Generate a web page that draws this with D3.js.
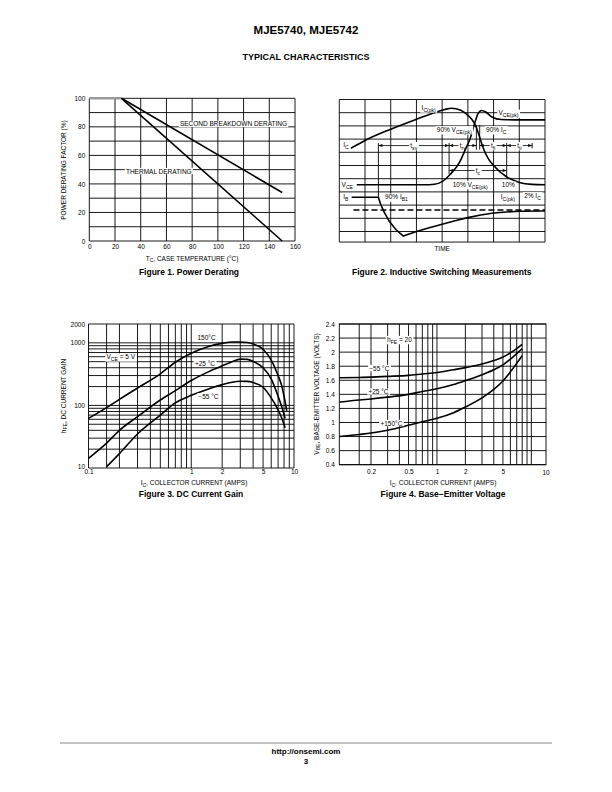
<!DOCTYPE html>
<html><head><meta charset="utf-8">
<script src="https://cdn.jsdelivr.net/npm/d3@7"></script>
<style>body{margin:0;background:#fff}</style>
</head><body>
<script>
// ================= DATA =================
// Figure 1 – Power Derating
const fig1XTicks = [0,20,40,60,80,100,120,140,160];
const fig1YTicks = [0,20,40,60,80,100];
const fig1XGrid = [0,20,40,60,80,100,120,140,160];
const fig1YGrid = [0,10,20,30,40,50,60,70,80,90,100];
const fig1Flat = [[0,100],[25,100]];
const fig1Thermal = [[25,100],[150,0]];
const fig1SecondBreakdown = [[25,100],[150,34]];

// Figure 2 – Inductive switching (schematic, grid units: 8 columns x 10.8 rows)
const fig2Cols = [0,1,2,3,4,5,6,7,8];
const fig2Rows = [0,1,2,3,4,5,6,7,8,9,10,10.8];
const fig2IC = [[0.45,3.69],[1.0,3.1],[2.0,2.25],[3.0,1.5],[3.7,1.0],[4.1,0.76],[4.37,0.66],[4.7,0.8],[4.96,1.12],[5.15,1.5],[5.3,1.97],[5.45,2.8],[5.6,3.7],[5.8,4.5],[6.0,5.0],[6.5,5.85],[7.0,6.28],[7.5,6.43],[8,6.46]];
const fig2VCE = [[0.68,6.46],[3.3,6.46],[3.7,6.42],[4.0,6.22],[4.3,5.7],[4.68,4.75],[4.9,3.8],[5.09,2.95],[5.28,1.7],[5.4,1.05],[5.53,0.83],[5.7,0.95],[5.95,1.35],[6.3,1.52],[6.8,1.54],[8,1.54]];
const fig2IB = [[0.48,7.4],[1.52,7.4],[1.6,7.9],[1.75,8.55],[1.95,9.25],[2.2,9.85],[2.49,10.35],[3.0,10.0],[3.5,9.72],[4.0,9.45],[4.5,9.18],[5.0,8.95],[5.5,8.75],[6.0,8.6],[6.5,8.52],[7.0,8.47],[8,8.45]];
const fig2Dashed = [[0.55,8.38],[8,8.38]];
const fig2Markers = [[1.52,3.3,7.4],[4.27,3.3,5.65],[5.33,1.95,3.8],[5.46,1.95,3.8],[6.51,3.3,5.9],[7.5,3.3,3.7]];
const fig2Intervals = [
  {from:1.52,to:4.27,row:3.49,label:[["t"],["sv",1]]},
  {from:4.27,to:5.33,row:3.49,label:[["t"],["rv",1]]},
  {from:5.46,to:6.51,row:3.49,label:[["t"],["fi",1]]},
  {from:6.51,to:7.5,row:3.49,label:[["t"],["ti",1]]},
  {from:4.27,to:6.51,row:5.38,label:[["t"],["c",1]]}
];
const fig2Labels = [
  {u:3.2,v:0.8,anchor:"start",segs:[["I"],["C(pk)",1]]},
  {u:6.19,v:1.2,anchor:"start",segs:[["V"],["CE(pk)",1]]},
  {u:5.15,v:2.45,anchor:"end",segs:[["90% V"],["CE(pk)",1]]},
  {u:5.71,v:2.45,anchor:"start",segs:[["90% I"],["C",1]]},
  {u:0.15,v:3.6,anchor:"start",segs:[["I"],["C",1]]},
  {u:0.09,v:6.6,anchor:"start",segs:[["V"],["CE",1]]},
  {u:4.41,v:6.6,anchor:"start",segs:[["10% V"],["CE(pk)",1]]},
  {u:6.32,v:6.65,anchor:"start",segs:[["10%"]]},
  {u:6.28,v:7.55,anchor:"start",segs:[["I"],["C(pk)",1]]},
  {u:7.19,v:7.45,anchor:"start",segs:[["2% I"],["C",1]]},
  {u:0.15,v:7.55,anchor:"start",segs:[["I"],["B",1]]},
  {u:1.78,v:7.55,anchor:"start",segs:[["90% I"],["B1",1]]}
];

// Figure 3 – DC current gain
const fig3XTicks = [0.1,1,2,5,10];
const fig3YTicks = [10,100,1000,2000];
const fig3XGrid = [0.1,0.15,0.2,0.3,0.4,0.5,0.6,0.7,0.8,0.9,1,2,3,4,5,6,7,8,9,10];
const fig3YGrid = [10,20,30,40,50,60,70,80,90,100,200,300,400,500,600,700,800,900,1000,2000];
const hfe150 = [[0.1,62],[0.15,92],[0.2,125],[0.3,190],[0.5,320],[0.7,490],[1,680],[1.5,880],[2,980],[2.5,1030],[3,1030],[3.5,1010],[4,960],[5,790],[6,530],[7,300],[7.6,205],[8,140],[8.5,82]];
const hfe25 = [[0.1,14.3],[0.15,25],[0.2,40],[0.3,66],[0.5,122],[0.7,172],[1,250],[1.5,350],[2,430],[2.5,500],[3,550],[3.5,545],[4,505],[5,400],[6,265],[7,140],[7.6,95],[8.2,62]];
const hfe55 = [[0.15,10.5],[0.2,17],[0.3,35],[0.5,70],[0.7,110],[1,145],[1.5,185],[2,215],[2.5,235],[3,243],[3.5,242],[4,232],[5,195],[6,132],[7,85],[7.6,63],[8.2,44]];

// Figure 4 – Base-emitter voltage
const fig4XTicks = [0.2,0.5,1,2,5];
const fig4XEndLabel = "10";
const fig4YTicks = [0.4,0.6,0.8,1,1.2,1.4,1.6,1.8,2,2.2,2.4];
const fig4XGrid = [0.15,0.2,0.3,0.4,0.5,0.6,0.7,0.8,0.9,1,2,3,4,5,6,7,8,9,10];
const vbe55 = [[0.093,1.635],[0.15,1.64],[0.2,1.645],[0.3,1.655],[0.5,1.67],[0.7,1.69],[1,1.71],[1.5,1.75],[2,1.78],[3,1.83],[4,1.88],[5,1.93],[6,1.99],[7,2.05],[8,2.11]];
const vbe25 = [[0.093,1.29],[0.15,1.32],[0.2,1.335],[0.3,1.36],[0.5,1.40],[0.7,1.44],[1,1.48],[1.5,1.54],[2,1.595],[3,1.68],[4,1.75],[5,1.82],[6,1.9],[7,1.98],[8,2.05]];
const vbe150 = [[0.093,0.80],[0.15,0.83],[0.2,0.85],[0.3,0.89],[0.5,0.96],[0.7,1.01],[1,1.06],[1.5,1.14],[2,1.22],[3,1.35],[4,1.47],[5,1.59],[6,1.72],[7,1.84],[8,1.95]];

// ================= DRAWING =================
const FONT = "'Liberation Sans', Arial, Helvetica, sans-serif";
const svg = d3.select("body").append("svg").attr("width",612).attr("height",792)
  .style("font-family",FONT);

function rich(g, x, y, segs, opt={}) {
  const size = opt.size || 6.5;
  const t = g.append("text").attr("x",x).attr("y",y)
    .attr("font-size",size).attr("text-anchor",opt.anchor||"start")
    .attr("font-weight",opt.weight||"normal").attr("fill","#000");
  let shifted = false;
  segs.forEach(s => {
    const str = s[0], sub = !!s[1];
    const ts = t.append("tspan").text(str);
    if (sub) {
      ts.attr("font-size", size*0.78);
      if (!shifted) { ts.attr("dy", size*0.3); shifted = true; }
    } else if (shifted) { ts.attr("dy", -size*0.3); shifted = false; }
  });
  if (opt.bg) {
    const b = t.node().getBBox();
    g.insert("rect", () => t.node()).attr("x",b.x-1.2).attr("y",b.y+0.3)
      .attr("width",b.width+2.4).attr("height",b.height-0.6).attr("fill","#fff");
  }
  return t;
}
function rotLabel(g, x, y, segs, size) {
  const gg = g.append("g").attr("transform",`translate(${x},${y}) rotate(-90)`);
  rich(gg, 0, 0, segs, {size:size||6.5, anchor:"middle"});
}
function styleAxis(sel, size) {
  sel.select(".domain").remove();
  sel.selectAll("text").attr("font-size",size||6.5).attr("fill","#000").attr("font-family",FONT);
}

// ---- Header / footer ----
rich(svg, 306, 34, [["MJE5740, MJE5742"]], {size:11.5, anchor:"middle", weight:"bold"});
rich(svg, 306, 60, [["TYPICAL CHARACTERISTICS"]], {size:9, anchor:"middle", weight:"bold"});
svg.append("line").attr("x1",60).attr("x2",552).attr("y1",743).attr("y2",743)
  .attr("stroke","#b0b0b0").attr("stroke-width",1.4);
rich(svg, 306, 754, [["http://onsemi.com"]], {size:8, anchor:"middle", weight:"bold"});
rich(svg, 306, 764, [["3"]], {size:8, anchor:"middle", weight:"bold"});

// ---- Figure 1 ----
{
  const g = svg.append("g");
  const x = d3.scaleLinear().domain([0,160]).range([89.3,295]);
  const y = d3.scaleLinear().domain([0,100]).range([241,98.3]);
  g.selectAll(".vg").data(fig1XGrid).join("line")
    .attr("x1",d=>x(d)).attr("x2",d=>x(d)).attr("y1",y(0)).attr("y2",y(100))
    .attr("stroke","#000").attr("stroke-width",0.9);
  g.selectAll(".hg").data(fig1YGrid).join("line")
    .attr("x1",x(0)).attr("x2",x(160)).attr("y1",d=>y(d)).attr("y2",d=>y(d))
    .attr("stroke","#000").attr("stroke-width",0.9);
  const line = d3.line().x(d=>x(d[0])).y(d=>y(d[1]));
  g.append("path").attr("d",line(fig1Flat)).attr("fill","none").attr("stroke","#999").attr("stroke-width",2.4);
  g.append("path").attr("d",line(fig1Thermal)).attr("fill","none").attr("stroke","#000").attr("stroke-width",1.6);
  g.append("path").attr("d",line(fig1SecondBreakdown)).attr("fill","none").attr("stroke","#000").attr("stroke-width",1.6);
  rich(g, x(70.5), y(80.3), [["SECOND BREAKDOWN DERATING"]], {bg:true});
  rich(g, x(28.5), y(47.3), [["THERMAL DERATING"]], {bg:true});
  g.append("g").attr("transform",`translate(0,${y(0)})`)
    .call(d3.axisBottom(x).tickValues(fig1XTicks).tickSize(0).tickPadding(3.5).tickFormat(d3.format("d")))
    .call(s=>styleAxis(s));
  g.append("g").attr("transform",`translate(${x(0)},0)`)
    .call(d3.axisLeft(y).tickValues(fig1YTicks).tickSize(0).tickPadding(4).tickFormat(d3.format("d")))
    .call(s=>styleAxis(s));
  rich(g, 192, 260.5, [["T"],["C",1],[", CASE TEMPERATURE (°C)"]], {anchor:"middle"});
  rotLabel(g, 65.5, 170, [["POWER DERATING FACTOR (%)"]]);
  rich(g, 189, 274.5, [["Figure 1. Power Derating"]], {size:8.5, anchor:"middle", weight:"bold"});
}

// ---- Figure 2 ----
{
  const g = svg.append("g");
  const x = d3.scaleLinear().domain([0,8]).range([339.3,545]);
  const y = d3.scaleLinear().domain([0,10]).range([99.5,231.5]);
  g.selectAll(".vg").data(fig2Cols).join("line")
    .attr("x1",d=>x(d)).attr("x2",d=>x(d)).attr("y1",y(0)).attr("y2",y(10.8))
    .attr("stroke","#000").attr("stroke-width",0.9);
  g.selectAll(".hg").data(fig2Rows).join("line")
    .attr("x1",x(0)).attr("x2",x(8)).attr("y1",d=>y(d)).attr("y2",d=>y(d))
    .attr("stroke","#000").attr("stroke-width",0.9);
  const smooth = d3.line().x(d=>x(d[0])).y(d=>y(d[1])).curve(d3.curveMonotoneX);
  const lin = d3.line().x(d=>x(d[0])).y(d=>y(d[1]));
  g.append("path").attr("d",lin(fig2Dashed)).attr("fill","none").attr("stroke","#000")
    .attr("stroke-width",1.5).attr("stroke-dasharray","6,3");
  g.selectAll(".mk").data(fig2Markers).join("line")
    .attr("x1",d=>x(d[0])).attr("x2",d=>x(d[0])).attr("y1",d=>y(d[1])).attr("y2",d=>y(d[2]))
    .attr("stroke","#000").attr("stroke-width",0.9);
  fig2Intervals.forEach(iv => {
    const yy = y(iv.row), xa = x(iv.from), xb = x(iv.to);
    g.append("line").attr("x1",xa).attr("x2",xb).attr("y1",yy).attr("y2",yy)
      .attr("stroke","#000").attr("stroke-width",0.8);
    g.append("path").attr("d",`M${xa},${yy}l4,-1.5v3z`).attr("fill","#000");
    g.append("path").attr("d",`M${xb},${yy}l-4,-1.5v3z`).attr("fill","#000");
    rich(g, (xa+xb)/2, yy+2.2, iv.label, {anchor:"middle", bg:true});
  });
  g.append("path").attr("d",smooth(fig2IC)).attr("fill","none").attr("stroke","#000").attr("stroke-width",1.6);
  g.append("path").attr("d",smooth(fig2VCE)).attr("fill","none").attr("stroke","#000").attr("stroke-width",1.6);
  g.append("path").attr("d",lin(fig2IB)).attr("fill","none").attr("stroke","#000").attr("stroke-width",1.6).attr("stroke-linejoin","round");
  fig2Labels.forEach(l => rich(g, x(l.u), y(l.v), l.segs, {anchor:l.anchor, bg:true}));
  rich(g, x(4), 250.5, [["TIME"]], {anchor:"middle"});
  rich(g, 441.7, 274.5, [["Figure 2. Inductive Switching Measurements"]], {size:8.5, anchor:"middle", weight:"bold"});
}

// ---- Figure 3 ----
{
  const g = svg.append("g");
  const x = d3.scaleLog().domain([0.1,10]).range([88.5,294]);
  const y = d3.scaleLog().domain([10,2000]).range([468,324]);
  g.selectAll(".vg").data(fig3XGrid).join("line")
    .attr("x1",d=>x(d)).attr("x2",d=>x(d)).attr("y1",y(10)).attr("y2",y(2000))
    .attr("stroke","#000").attr("stroke-width",0.9);
  g.selectAll(".hg").data(fig3YGrid).join("line")
    .attr("x1",x(0.1)).attr("x2",x(10)).attr("y1",d=>y(d)).attr("y2",d=>y(d))
    .attr("stroke","#000").attr("stroke-width",0.9);
  const line = d3.line().x(d=>x(d[0])).y(d=>y(d[1])).curve(d3.curveMonotoneX);
  [hfe150,hfe25,hfe55].forEach(s => g.append("path").attr("d",line(s)).attr("fill","none")
    .attr("stroke","#000").attr("stroke-width",1.6));
  rich(g, x(0.206), y(552), [["V"],["CE",1],[" = 5 V"]], {anchor:"middle", bg:true});
  rich(g, x(1.41), y(1090), [["150°C"]], {anchor:"middle", bg:true});
  rich(g, x(1.36), y(432), [["+25 °C"]], {anchor:"middle", bg:true});
  rich(g, x(1.47), y(127), [["−55 °C"]], {anchor:"middle", bg:true});
  g.append("g").attr("transform",`translate(0,${y(10)})`)
    .call(d3.axisBottom(x).tickValues(fig3XTicks).tickSize(0).tickPadding(1.8).tickFormat(d=>String(d)))
    .call(s=>styleAxis(s));
  g.append("g").attr("transform",`translate(${x(0.1)},0)`)
    .call(d3.axisLeft(y).tickValues(fig3YTicks).tickSize(0).tickPadding(3.5).tickFormat(d=>String(d)))
    .call(s=>styleAxis(s))
    .call(s=>s.selectAll(".tick").filter(d=>d===10).select("text").attr("dy","0.0em"));
  rich(g, 194, 485, [["I"],["C",1],[", COLLECTOR CURRENT (AMPS)"]], {anchor:"middle"});
  rotLabel(g, 65.5, 396, [["h"],["FE",1],[", DC CURRENT GAIN"]]);
  rich(g, 191, 497, [["Figure 3. DC Current Gain"]], {size:8.5, anchor:"middle", weight:"bold"});
}

// ---- Figure 4 ----
{
  const g = svg.append("g");
  const x = d3.scaleLog().domain([0.0923,14.3]).range([339.3,546]);
  const y = d3.scaleLinear().domain([0.4,2.4]).range([464.7,324]);
  g.selectAll(".vg").data(fig4XGrid).join("line")
    .attr("x1",d=>x(d)).attr("x2",d=>x(d)).attr("y1",y(0.4)).attr("y2",y(2.4))
    .attr("stroke","#000").attr("stroke-width",0.9);
  g.append("rect").attr("x",x.range()[0]).attr("y",y(2.4)).attr("width",x.range()[1]-x.range()[0])
    .attr("height",y(0.4)-y(2.4)).attr("fill","none").attr("stroke","#000").attr("stroke-width",0.9);
  g.selectAll(".hg").data(fig4YTicks).join("line")
    .attr("x1",x.range()[0]).attr("x2",x.range()[1]).attr("y1",d=>y(d)).attr("y2",d=>y(d))
    .attr("stroke","#000").attr("stroke-width",0.9);
  const line = d3.line().x(d=>x(d[0])).y(d=>y(d[1])).curve(d3.curveMonotoneX);
  [vbe55,vbe25,vbe150].forEach(s => g.append("path").attr("d",line(s)).attr("fill","none")
    .attr("stroke","#000").attr("stroke-width",1.6));
  rich(g, x(0.4), y(2.15), [["h"],["FE",1],[" = 20"]], {anchor:"middle", bg:true});
  rich(g, x(0.245), y(1.738), [["−55 °C"]], {anchor:"middle", bg:true});
  rich(g, x(0.24), y(1.405), [["+25 °C"]], {anchor:"middle", bg:true});
  rich(g, x(0.329), y(0.956), [["+150°C"]], {anchor:"middle", bg:true});
  g.append("g").attr("transform",`translate(0,${y(0.4)})`)
    .call(d3.axisBottom(x).tickValues(fig4XTicks).tickSize(0).tickPadding(5).tickFormat(d=>String(d)))
    .call(s=>styleAxis(s));
  rich(g, x.range()[1], y(0.4)+10.5, [[fig4XEndLabel]], {anchor:"middle"});
  g.append("g").attr("transform",`translate(${x.range()[0]},0)`)
    .call(d3.axisLeft(y).tickValues(fig4YTicks).tickSize(0).tickPadding(4.5).tickFormat(d=>String(d)))
    .call(s=>styleAxis(s));
  rich(g, 443, 485, [["I"],["C",1],[", COLLECTOR CURRENT (AMPS)"]], {anchor:"middle"});
  rotLabel(g, 318.5, 394, [["V"],["BE",1],[", BASE-EMITTER VOLTAGE (VOLTS)"]]);
  rich(g, 443, 497, [["Figure 4. Base−Emitter Voltage"]], {size:8.5, anchor:"middle", weight:"bold"});
}
</script>
</body></html>
